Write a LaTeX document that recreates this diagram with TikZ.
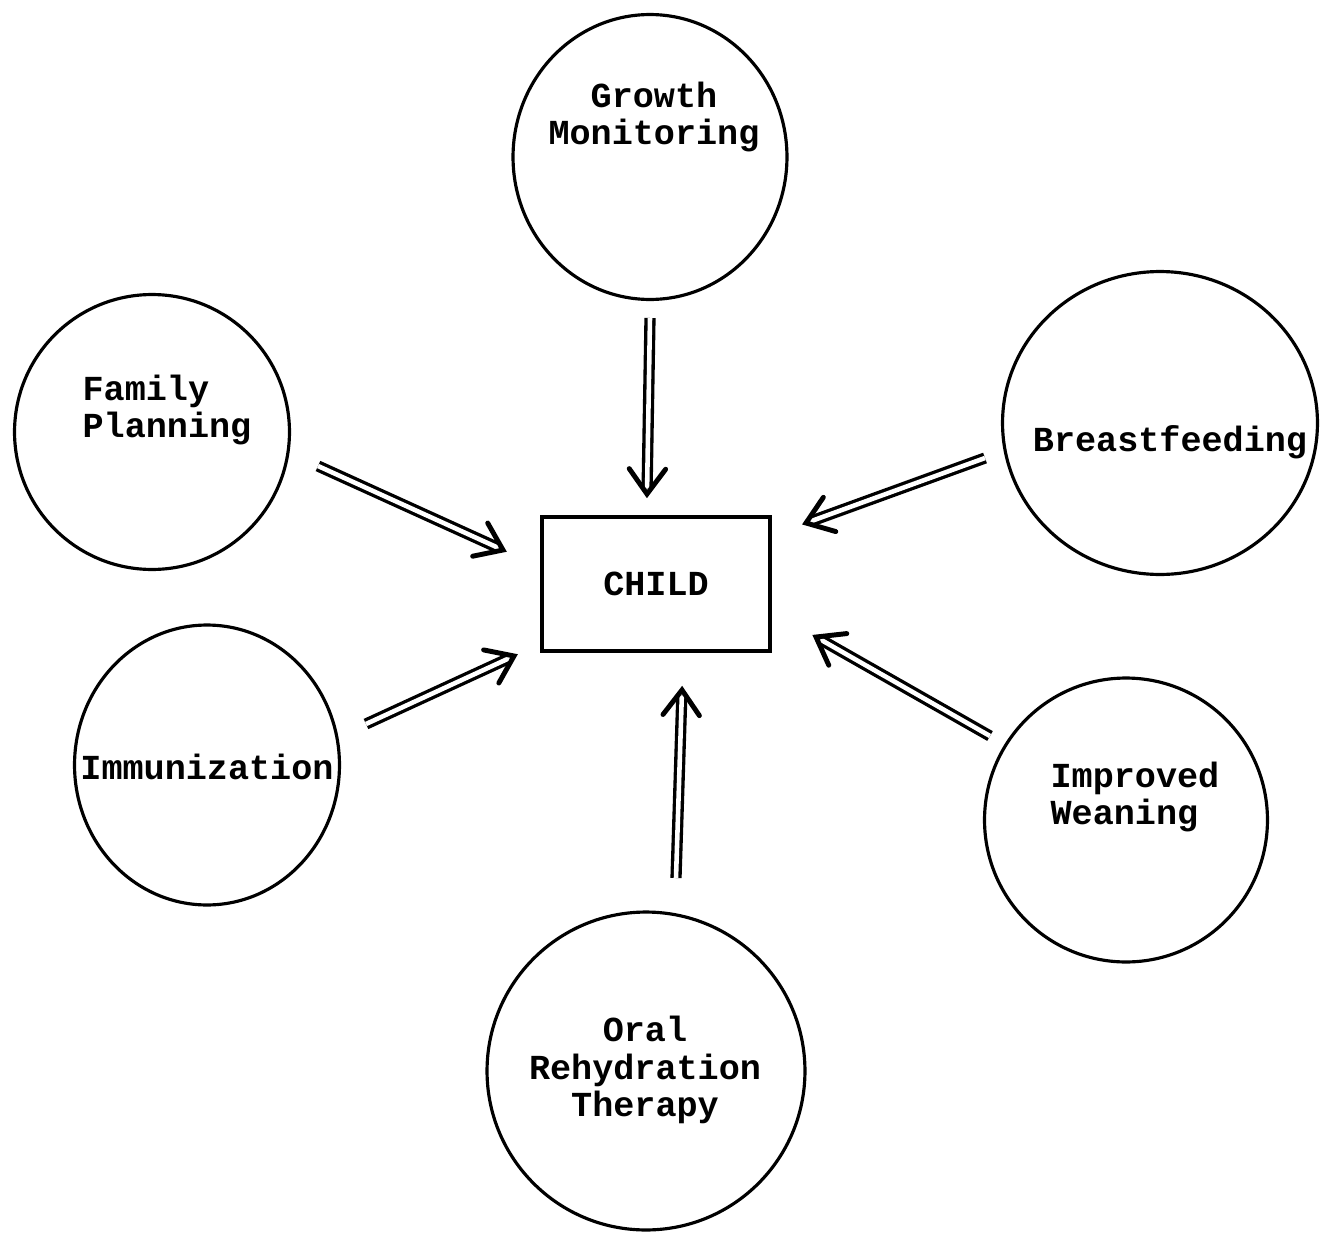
\documentclass[tikz,border=0pt]{standalone}
\usepackage{fontspec}
\setmonofont{Liberation Mono}
\usetikzlibrary{calc,shapes.geometric}
\tikzset{
  bubble/.style={draw, ellipse, line width=1.8pt, inner sep=0pt, outer sep=0pt},
  lbl/.style={font=\ttfamily\bfseries\fontsize{20}{21.5}\selectfont, inner sep=0pt},
  shaft/.style={double, line width=1.9pt, double distance=2.6pt, shorten >=3pt},
  head/.style={line width=2.8pt, line cap=round, line join=miter},
  childbox/.style={draw, rectangle, line width=1.8pt, minimum width=4.56cm, minimum height=2.68cm, inner sep=0pt}
}
\newcommand\feedarrow[2]{%
  \draw[shaft] (#1) -- (#2);
  \draw[head] ($(#2)!0.62cm!36:(#1)$) -- (#2) -- ($(#2)!0.62cm!-36:(#1)$);
}
\begin{document}
\begin{tikzpicture}[x=0.02cm, y=-0.02cm]
\useasboundingbox (0,0) rectangle (1323,1234);
% circles
\node[bubble, minimum width=5.48cm, minimum height=5.70cm] (gm) at (650,157) {};
\node[bubble, minimum width=5.50cm, minimum height=5.50cm] (fp) at (152,432) {};
\node[bubble, minimum width=6.30cm, minimum height=6.06cm] (bf) at (1160,423) {};
\node[bubble, minimum width=5.30cm, minimum height=5.60cm] (im) at (207,765) {};
\node[bubble, minimum width=5.66cm, minimum height=5.68cm] (iw) at (1126,820) {};
\node[bubble, minimum width=6.36cm, minimum height=6.36cm] (ort) at (646,1071) {};
% labels
\node[lbl, align=center] (gmt) at (654,117) {Growth\\Monitoring};
\node[lbl, align=left] (fpt) at (167,410) {Family\\Planning};
\node[lbl] (bft) at (1170,442) {Breastfeeding};
\node[lbl] (imt) at (207,767) {Immunization};
\node[lbl, align=left] (iwt) at (1135,797) {Improved\\Weaning};
\node[lbl, align=center] (ortt) at (645,1070) {Oral\\Rehydration\\Therapy};
% child
\node[childbox, lbl] (child) at (656,584) {CHILD};
% arrow ends
\coordinate (a1) at (650,318); \coordinate (b1) at (647,494);
\coordinate (a2) at (318,466); \coordinate (b2) at (503,550);
\coordinate (a3) at (985,458); \coordinate (b3) at (806,523);
\coordinate (a4) at (366,724); \coordinate (b4) at (514,656);
\coordinate (a5) at (990,736); \coordinate (b5) at (816,637);
\coordinate (a6) at (676,878); \coordinate (b6) at (682,690);
\feedarrow{a1}{b1}
\feedarrow{a2}{b2}
\feedarrow{a3}{b3}
\feedarrow{a4}{b4}
\feedarrow{a5}{b5}
\feedarrow{a6}{b6}
\end{tikzpicture}
\end{document}
